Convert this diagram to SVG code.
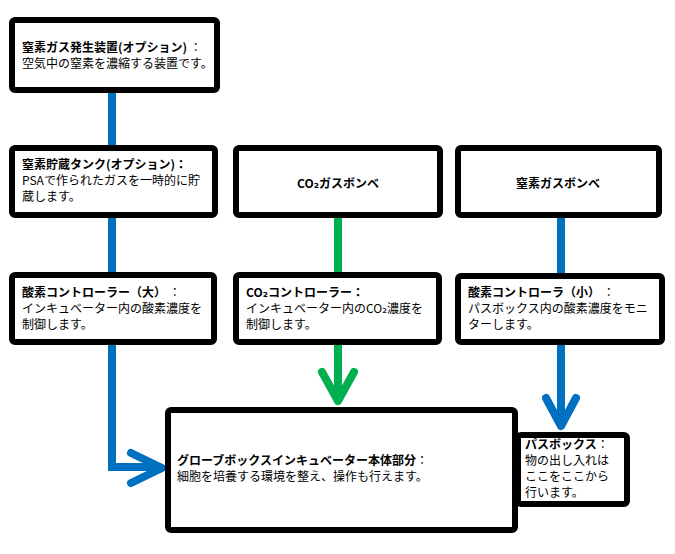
<svg xmlns="http://www.w3.org/2000/svg" width="675" height="554" viewBox="0 0 675 554">
<style>
.box{fill:#fff;stroke:#000;stroke-width:6;}
text{font-family:"Noto Sans CJK JP","DejaVu Sans",sans-serif;font-size:12px;fill:#000;}
.b{font-weight:bold;}
.c{text-anchor:middle;}
.blue{stroke:#0070C0;stroke-width:8;fill:none;}
.green{stroke:#00B050;stroke-width:8;fill:none;}
.head{stroke-linecap:round;stroke-linejoin:round;}
</style>
<rect width="675" height="554" fill="#fff"/>
<g id="connectors">
<path class="blue" d="M112 93V146M112 217V273M112 344V467H158"/>
<polyline class="blue head" points="131,453 162,468 131,483"/>
<path class="green" d="M338 217V273M338 344V398"/>
<polyline class="green head" points="322,372 338,401 354,372"/>
<path class="blue" d="M561 217V274M561 344V424"/>
<polyline class="blue head" points="546,398 561,426 576,398"/>
</g>
<g id="n2-generator">
<rect class="box" x="12" y="20" width="205" height="70" rx="3"/>
<text x="22" y="52"><tspan class="b">窒素ガス発生装置(オプション)</tspan> ：</text>
<text x="22" y="68">空気中の窒素を濃縮する装置です。</text>
</g>
<g id="n2-tank">
<rect class="box" x="12" y="148" width="203" height="67" rx="3"/>
<text x="22" y="169" class="b">窒素貯蔵タンク(オプション)：</text>
<text x="22" y="185">PSAで作られたガスを一時的に貯</text>
<text x="22" y="201">蔵します。</text>
</g>
<g id="co2-cylinder">
<rect class="box" x="236" y="148" width="204" height="67" rx="3"/>
<text x="338" y="188" class="b c">CO₂ガスボンベ</text>
</g>
<g id="n2-cylinder">
<rect class="box" x="458" y="148" width="201" height="67" rx="3"/>
<text x="558" y="188" class="b c">窒素ガスボンベ</text>
</g>
<g id="o2-controller-large">
<rect class="box" x="12" y="275" width="202" height="67" rx="3"/>
<text x="22" y="297"><tspan class="b">酸素コントローラー（大）</tspan> ：</text>
<text x="22" y="313">インキュベーター内の酸素濃度を</text>
<text x="22" y="329">制御します。</text>
</g>
<g id="co2-controller">
<rect class="box" x="236" y="275" width="203" height="67" rx="3"/>
<text x="246" y="297" class="b">CO₂コントローラー：</text>
<text x="246" y="313">インキュベーター内のCO₂濃度を</text>
<text x="246" y="329">制御します。</text>
</g>
<g id="o2-controller-small">
<rect class="box" x="458" y="276" width="204" height="66" rx="3"/>
<text x="468" y="297"><tspan class="b">酸素コントローラ（小）</tspan> ：</text>
<text x="468" y="313">パスボックス内の酸素濃度をモニ</text>
<text x="468" y="329">ターします。</text>
</g>
<g id="pass-box">
<rect class="box" x="518" y="435" width="109" height="69" rx="3"/>
<text x="525" y="449"><tspan class="b">パスボックス</tspan>：</text>
<text x="525" y="465">物の出し入れは</text>
<text x="525" y="481">ここをここから</text>
<text x="525" y="497">行います。</text>
</g>
<g id="incubator-body">
<rect class="box" x="168" y="410" width="347" height="120" rx="3"/>
<text x="177" y="465"><tspan class="b">グローブボックスインキュベーター本体部分</tspan>：</text>
<text x="177" y="481">細胞を培養する環境を整え、操作も行えます。</text>
</g>
</svg>
